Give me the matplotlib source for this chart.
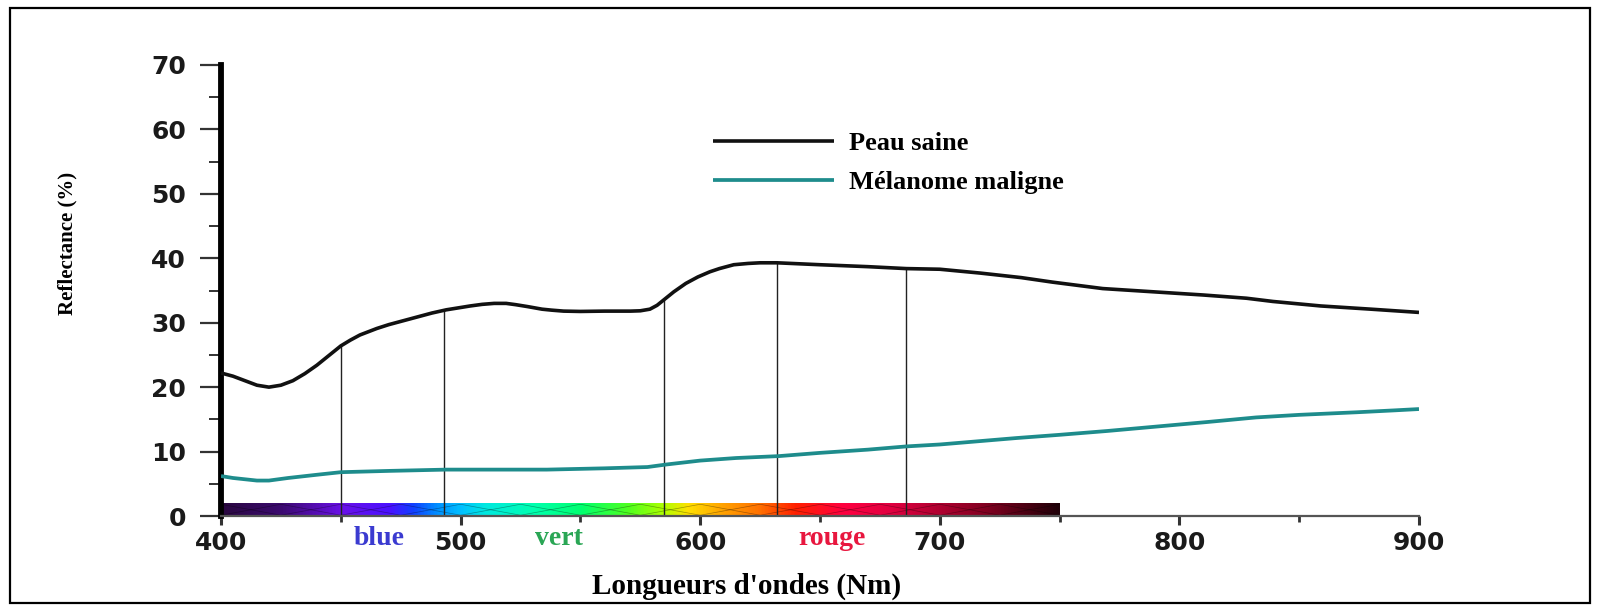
import numpy as np
import matplotlib
matplotlib.use("Agg")
import matplotlib.pyplot as plt
from matplotlib.colors import LinearSegmentedColormap
from matplotlib.patches import Rectangle
from matplotlib.ticker import MultipleLocator

# ---------------- data ----------------
wl_healthy = [400, 405, 410, 415, 420, 425, 430, 435, 440, 445, 450, 454, 458, 465, 470,
              476, 482, 488, 494, 499, 504, 509, 514, 519, 523, 528, 534, 538, 543, 550,
              560, 571, 575, 579, 582, 585, 589, 594, 599, 604, 608, 614, 620, 625, 632,
              650, 670, 686, 700, 717, 734, 747, 768, 789, 810, 828, 839, 859, 880, 900]
refl_healthy = [22.2, 21.7, 21.0, 20.3, 20.0, 20.3, 21.0, 22.1, 23.4, 24.9, 26.4, 27.3,
                28.1, 29.1, 29.7, 30.3, 30.9, 31.5, 32.0, 32.3, 32.6, 32.85, 33.0, 33.0,
                32.8, 32.5, 32.1, 31.95, 31.8, 31.75, 31.8, 31.8, 31.85, 32.1, 32.7, 33.6,
                34.8, 36.1, 37.1, 37.9, 38.4, 39.0, 39.2, 39.3, 39.3, 39.0, 38.7, 38.4,
                38.3, 37.7, 37.0, 36.3, 35.3, 34.8, 34.3, 33.8, 33.3, 32.6, 32.1, 31.6]

wl_melanoma = [400, 405, 410, 415, 420, 428, 440, 450, 470, 494, 520, 536, 560, 578,
               586, 600, 615, 633, 650, 670, 686, 700, 716, 732, 750, 770, 791, 812,
               832, 850, 874, 890, 900]
refl_melanoma = [6.2, 5.9, 5.7, 5.5, 5.5, 5.9, 6.4, 6.8, 7.0, 7.2, 7.2, 7.2, 7.4, 7.6,
                 8.0, 8.6, 9.0, 9.3, 9.8, 10.3, 10.8, 11.1, 11.6, 12.1, 12.6, 13.2,
                 13.9, 14.6, 15.3, 15.7, 16.1, 16.4, 16.6]

series_labels = ["Peau saine", "Mélanome maligne"]
marker_wavelengths = [450, 493, 585, 632, 686]

spectrum_start, spectrum_end, spectrum_height = 400, 750, 2
spectrum_stops = [400, 425, 450, 470, 480, 490, 500, 510, 530, 550, 570, 585, 595,
                  610, 625, 640, 660, 680, 700, 720, 740, 750]
spectrum_colors = ["#2a0840", "#3c0a70", "#6a10e8", "#4a10ff", "#1040ff", "#0090ff",
                   "#00c0ff", "#00e8e0", "#00ffb0", "#00ff70", "#50ff20", "#b0ff00",
                   "#ffe000", "#ffa000", "#ff7000", "#ff2000", "#ff0040", "#e00040",
                   "#b00030", "#800020", "#400010", "#200008"]

band_names = ["blue", "vert", "rouge"]
band_centers = [466, 541, 655]
band_colors = ["#3b3bd0", "#2aa655", "#e8173f"]

x_ticks = [400, 500, 600, 700, 800, 900]
y_ticks = [0, 10, 20, 30, 40, 50, 60, 70]

xlabel = "Longueurs d'ondes (Nm)"
ylabel = "Reflectance (%)"

# ---------------- figure ----------------
W, H = 1598, 611
fig = plt.figure(figsize=(W / 100, H / 100), dpi=100)
ax = fig.add_axes([221 / W, (H - 516) / H, 1198 / W, 451 / H])

ax.set_xlim(400, 900)
ax.set_ylim(0, 70)

# spectrum bar
cmap = LinearSegmentedColormap.from_list(
    "spec",
    [((s - spectrum_start) / (spectrum_end - spectrum_start), c)
     for s, c in zip(spectrum_stops, spectrum_colors)])
grad = np.linspace(0, 1, 512).reshape(1, -1)
ax.imshow(grad, cmap=cmap, aspect="auto",
          extent=(spectrum_start, spectrum_end, 0, spectrum_height),
          zorder=1, interpolation="bilinear")
# thin zigzag texture on the bar
zx = np.linspace(spectrum_start, spectrum_end, 800)
period = 50.0
for phase in (0.0, 0.5):
    tri = np.abs(((zx - spectrum_start) / period + phase) % 1 - 0.5) * 2
    ax.plot(zx, 0.12 + (spectrum_height - 0.3) * tri, color="k", lw=0.5,
            alpha=0.35, zorder=1.5)

# vertical marker lines up to the healthy-skin curve
tops = np.interp(marker_wavelengths, wl_healthy, refl_healthy)
ax.vlines(marker_wavelengths, 0, tops, colors="#222222", lw=1.0, zorder=2)

# curves
l1, = ax.plot(wl_healthy, refl_healthy, color="#111111", lw=2.6, zorder=4,
              solid_capstyle="butt", solid_joinstyle="round")
l2, = ax.plot(wl_melanoma, refl_melanoma, color="#1e8c8c", lw=2.7, zorder=4,
              solid_capstyle="butt", solid_joinstyle="round")

# spines
for s in ("top", "right"):
    ax.spines[s].set_visible(False)
ax.spines["left"].set_linewidth(4.2)
ax.spines["left"].set_color("black")
ax.spines["bottom"].set_linewidth(1.6)
ax.spines["bottom"].set_color("#555555")

# ticks
ax.set_xticks(x_ticks)
ax.set_yticks(y_ticks)
ax.xaxis.set_minor_locator(MultipleLocator(50))
ax.yaxis.set_minor_locator(MultipleLocator(5))
ax.tick_params(axis="y", which="major", direction="out", length=15, width=1.6,
               color="#333333", pad=10)
ax.tick_params(axis="y", which="minor", direction="out", length=8.5, width=1.4,
               color="#333333")
ax.tick_params(axis="x", which="major", direction="out", length=6.5, width=2.2,
               color="#333333", pad=4)
ax.tick_params(axis="x", which="minor", direction="out", length=4.5, width=2.0,
               color="#333333")
for lab in ax.get_xticklabels() + ax.get_yticklabels():
    lab.set_fontfamily("DejaVu Sans")
    lab.set_fontweight("bold")
    lab.set_fontsize(18)
    lab.set_color("#1a1a1a")

# band labels under the axis
for name, c, col in zip(band_names, band_centers, band_colors):
    ax.text(c, -0.049, name, transform=ax.get_xaxis_transform(), ha="center",
            va="center", fontfamily="Liberation Serif", fontweight="bold",
            fontsize=20, color=col, clip_on=False)

# axis labels
ax.set_xlabel(xlabel, fontfamily="Liberation Serif", fontweight="bold",
              fontsize=21, va="center", ha="center")
ax.xaxis.set_label_coords((747 - 221) / 1198, (516 - 586) / 451)
ax.set_ylabel(ylabel, fontfamily="Liberation Serif", fontweight="bold",
              fontsize=15, va="center", ha="center")
ax.yaxis.set_label_coords((67 - 221) / 1198, (516 - 243) / 451)

# legend
leg = ax.legend([l1, l2], series_labels, loc="center left",
                bbox_to_anchor=(713 / W, 1 - 163 / H), bbox_transform=fig.transFigure,
                frameon=False, borderpad=0, borderaxespad=0,
                handlelength=4.6, handletextpad=0.55, labelspacing=0.6,
                prop={"family": "Liberation Serif", "weight": "bold", "size": 19})

# outer border
fig.patches.append(Rectangle((10 / W, 8 / H), (1590 - 10) / W, (603 - 8) / H,
                             transform=fig.transFigure, fill=False,
                             edgecolor="black", lw=1.6))

fig.savefig("out.png", dpi=100)
